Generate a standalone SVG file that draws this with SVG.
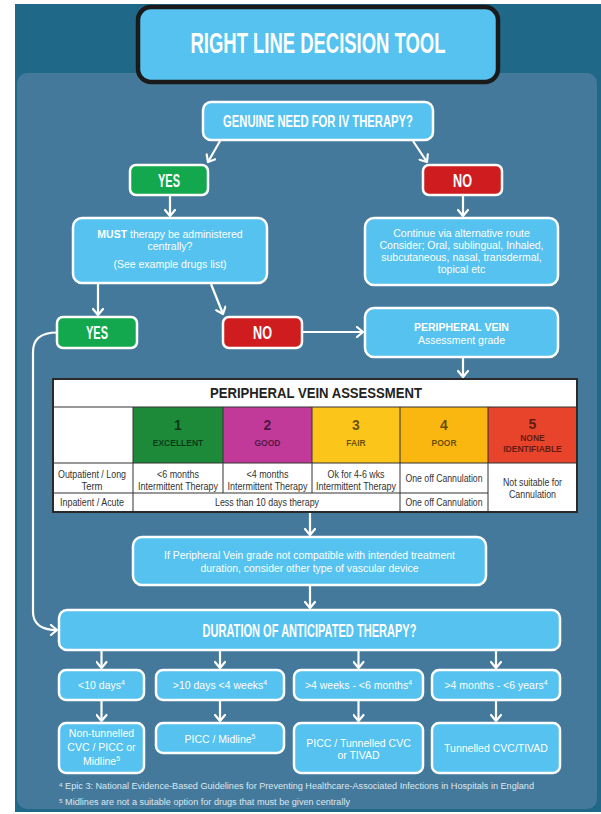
<svg xmlns="http://www.w3.org/2000/svg" width="601" height="814" viewBox="0 0 601 814">
<defs>
<marker id="ah" markerWidth="12" markerHeight="12" refX="10" refY="6" orient="auto" markerUnits="userSpaceOnUse">
<path d="M4,1 L10,6 L4,11" fill="none" stroke="#fff" stroke-width="2.2" stroke-linecap="round" stroke-linejoin="round"/>
</marker>
</defs>
<style>
.box{fill:#55c2ef;stroke:#fff;stroke-width:2.5}
.yes{fill:#13a84e;stroke:#fff;stroke-width:2.5}
.no{fill:#cf1c1f;stroke:#fff;stroke-width:2.5}
.hd{font-family:"Liberation Sans",Arial,sans-serif;font-weight:bold;fill:#fff;text-anchor:middle}
.t{font-family:"Liberation Sans",Arial,sans-serif;fill:#fff;text-anchor:middle;font-size:10.5px}
.tb{font-family:"Liberation Sans",Arial,sans-serif;fill:#333;text-anchor:middle;font-size:10.5px}
.num{font-family:"Liberation Sans",Arial,sans-serif;font-weight:bold;fill:#000;fill-opacity:.6;text-anchor:middle}
.cn line,.cn path{stroke:#fff;stroke-width:2.2;fill:none;marker-end:url(#ah)}
.grid{stroke:#333;stroke-width:1}
.fn{font-family:"Liberation Sans",Arial,sans-serif;fill:#dce8ef;font-size:8.5px}
</style>

<rect x="15" y="4" width="586" height="808" fill="#206888"/>
<rect x="17" y="73" width="580" height="736" rx="10" fill="#44799b"/>

<g id="title">
<rect x="138" y="7" width="360" height="75" rx="13" fill="#55c2ef" stroke="#1a1a1a" stroke-width="4.5"/>
<text class="hd" x="318" y="53" font-size="29" textLength="255" lengthAdjust="spacingAndGlyphs">RIGHT LINE DECISION TOOL</text>
</g>

<g id="genuine">
<rect class="box" x="203" y="102" width="230" height="38" rx="8"/>
<text class="hd" x="318" y="127" font-size="16.5" textLength="190" lengthAdjust="spacingAndGlyphs">GENUINE NEED FOR IV THERAPY?</text>
</g>

<g id="yes1">
<rect class="yes" x="130" y="165" width="78" height="30" rx="6"/>
<text class="hd" x="169" y="187" font-size="18" textLength="22" lengthAdjust="spacingAndGlyphs">YES</text>
</g>

<g id="no1">
<rect class="no" x="423" y="165" width="79" height="30" rx="6"/>
<text class="hd" x="462.5" y="187" font-size="18" textLength="19" lengthAdjust="spacingAndGlyphs">NO</text>
</g>

<g id="must">
<rect class="box" x="73" y="218" width="194" height="65" rx="9"/>
<text class="t" x="170" y="238"><tspan font-weight="bold">MUST</tspan> therapy be administered</text>
<text class="t" x="170" y="250">centrally?</text>
<text class="t" x="170" y="268">(See example drugs list)</text>
</g>

<g id="continue">
<rect class="box" x="365" y="218" width="193" height="67" rx="9"/>
<text class="t" x="461.5" y="237">Continue via alternative route</text>
<text class="t" x="461.5" y="249">Consider; Oral, sublingual, Inhaled,</text>
<text class="t" x="461.5" y="261">subcutaneous, nasal, transdermal,</text>
<text class="t" x="461.5" y="273">topical etc</text>
</g>

<g id="yes2">
<rect class="yes" x="57" y="317" width="80" height="31" rx="6"/>
<text class="hd" x="97" y="339" font-size="18" textLength="22" lengthAdjust="spacingAndGlyphs">YES</text>
</g>

<g id="no2">
<rect class="no" x="223" y="317" width="79" height="31" rx="6"/>
<text class="hd" x="262.5" y="339" font-size="18" textLength="19" lengthAdjust="spacingAndGlyphs">NO</text>
</g>

<g id="peripheral">
<rect class="box" x="365" y="308" width="193" height="49" rx="9"/>
<text class="t" x="461.5" y="331" font-weight="bold">PERIPHERAL VEIN</text>
<text class="t" x="461.5" y="344">Assessment grade</text>
</g>

<g id="table">
<rect x="53" y="379" width="524" height="133" fill="#fff"/>
<rect x="133" y="407" width="90" height="56" fill="#1d8a3a"/>
<rect x="223" y="407" width="89" height="56" fill="#c13a9a"/>
<rect x="312" y="407" width="88" height="56" fill="#fcc51a"/>
<rect x="400" y="407" width="88" height="56" fill="#f9b70f"/>
<rect x="488" y="407" width="89" height="56" fill="#e8432b"/>
<line class="grid" x1="53" y1="407" x2="577" y2="407"/>
<line class="grid" x1="53" y1="463" x2="577" y2="463"/>
<line class="grid" x1="53" y1="493" x2="488" y2="493"/>
<line class="grid" x1="133" y1="407" x2="133" y2="512"/>
<line class="grid" x1="223" y1="407" x2="223" y2="493"/>
<line class="grid" x1="312" y1="407" x2="312" y2="493"/>
<line class="grid" x1="400" y1="407" x2="400" y2="512"/>
<line class="grid" x1="488" y1="407" x2="488" y2="512"/>
<rect x="53" y="379" width="524" height="133" fill="none" stroke="#2a2a2a" stroke-width="2"/>
<text x="316" y="398" font-family="Liberation Sans, Arial, sans-serif" font-weight="bold" font-size="14" fill="#222" text-anchor="middle" textLength="212" lengthAdjust="spacingAndGlyphs">PERIPHERAL VEIN ASSESSMENT</text>
<text class="num" x="178" y="430" font-size="14">1</text>
<text class="num" x="178" y="446" font-size="8.5">EXCELLENT</text>
<text class="num" x="267.5" y="430" font-size="14">2</text>
<text class="num" x="267.5" y="446" font-size="8.5">GOOD</text>
<text class="num" x="356" y="430" font-size="14">3</text>
<text class="num" x="356" y="446" font-size="8.5">FAIR</text>
<text class="num" x="444" y="430" font-size="14">4</text>
<text class="num" x="444" y="446" font-size="8.5">POOR</text>
<text class="num" x="532.5" y="429" font-size="14">5</text>
<text class="num" x="532.5" y="440.5" font-size="8.5">NONE</text>
<text class="num" x="532.5" y="451.5" font-size="8.5">IDENTIFIABLE</text>
<text class="tb" x="92" y="477.5" textLength="68" lengthAdjust="spacingAndGlyphs">Outpatient / Long</text>
<text class="tb" x="92" y="489.5" textLength="21" lengthAdjust="spacingAndGlyphs">Term</text>
<text class="tb" x="178" y="477.5" textLength="42" lengthAdjust="spacingAndGlyphs">&lt;6 months</text>
<text class="tb" x="178" y="489.5" textLength="80" lengthAdjust="spacingAndGlyphs">Intermittent Therapy</text>
<text class="tb" x="267.5" y="477.5" textLength="42" lengthAdjust="spacingAndGlyphs">&lt;4 months</text>
<text class="tb" x="267.5" y="489.5" textLength="80" lengthAdjust="spacingAndGlyphs">Intermittent Therapy</text>
<text class="tb" x="356" y="477.5" textLength="57" lengthAdjust="spacingAndGlyphs">Ok for 4-6 wks</text>
<text class="tb" x="356" y="489.5" textLength="80" lengthAdjust="spacingAndGlyphs">Intermittent Therapy</text>
<text class="tb" x="444" y="481.5" textLength="77" lengthAdjust="spacingAndGlyphs">One off Cannulation</text>
<text class="tb" x="532.5" y="485.5" textLength="59" lengthAdjust="spacingAndGlyphs">Not suitable for</text>
<text class="tb" x="532.5" y="497.5" textLength="47" lengthAdjust="spacingAndGlyphs">Cannulation</text>
<text class="tb" x="92" y="506" textLength="64" lengthAdjust="spacingAndGlyphs">Inpatient / Acute</text>
<text class="tb" x="267" y="506" textLength="104" lengthAdjust="spacingAndGlyphs">Less than 10 days therapy</text>
<text class="tb" x="444" y="506" textLength="77" lengthAdjust="spacingAndGlyphs">One off Cannulation</text>
</g>

<g id="info">
<rect class="box" x="133" y="537" width="353" height="48" rx="9"/>
<text class="t" x="309.5" y="558.5" font-size="10" textLength="291" lengthAdjust="spacingAndGlyphs">If Peripheral Vein grade not compatible with intended treatment</text>
<text class="t" x="309.5" y="572" font-size="10" textLength="218" lengthAdjust="spacingAndGlyphs">duration, consider other type of vascular device</text>
</g>

<g id="duration">
<rect class="box" x="59" y="610" width="501" height="40" rx="8"/>
<text class="hd" x="309.5" y="637" font-size="18" textLength="214" lengthAdjust="spacingAndGlyphs">DURATION OF ANTICIPATED THERAPY?</text>
</g>

<g id="d1">
<rect class="box" x="59" y="670" width="85" height="30" rx="7"/>
<text class="t" x="101.5" y="689" font-size="11">&lt;10 days<tspan font-size="7" dy="-4">4</tspan></text>
</g>
<g id="d2">
<rect class="box" x="156" y="670" width="128" height="30" rx="7"/>
<text class="t" x="220" y="689" font-size="11">&gt;10 days &lt;4 weeks<tspan font-size="7" dy="-4">4</tspan></text>
</g>
<g id="d3">
<rect class="box" x="294" y="670" width="129" height="30" rx="7"/>
<text class="t" x="358.5" y="689" font-size="11">&gt;4 weeks - &lt;6 months<tspan font-size="7" dy="-4">4</tspan></text>
</g>
<g id="d4">
<rect class="box" x="432" y="670" width="128" height="30" rx="7"/>
<text class="t" x="496" y="689" font-size="11">&gt;4 months - &lt;6 years<tspan font-size="7" dy="-4">4</tspan></text>
</g>

<g id="r1">
<rect class="box" x="59" y="723" width="85" height="50" rx="7"/>
<text class="t" x="101.5" y="737">Non-tunnelled</text>
<text class="t" x="101.5" y="751">CVC / PICC or</text>
<text class="t" x="101.5" y="765">Midline<tspan font-size="7" dy="-4">5</tspan></text>
</g>
<g id="r2">
<rect class="box" x="156" y="723" width="128" height="30" rx="7"/>
<text class="t" x="220" y="742.5">PICC / Midline<tspan font-size="7" dy="-4">5</tspan></text>
</g>
<g id="r3">
<rect class="box" x="294" y="723" width="129" height="50" rx="7"/>
<text class="t" x="358.5" y="746.5">PICC / Tunnelled CVC</text>
<text class="t" x="358.5" y="758.5">or TIVAD</text>
</g>
<g id="r4">
<rect class="box" x="432" y="723" width="128" height="50" rx="7"/>
<text class="t" x="496" y="752">Tunnelled CVC/TIVAD</text>
</g>

<g id="footnotes">
<text class="fn" x="59" y="789" textLength="475" lengthAdjust="spacingAndGlyphs"><tspan font-size="6" dy="-2">4</tspan><tspan dy="2"> Epic 3: National Evidence-Based Guidelines for Preventing Healthcare-Associated Infections in Hospitals in England</tspan></text>
<text class="fn" x="59" y="805" textLength="291" lengthAdjust="spacingAndGlyphs"><tspan font-size="6" dy="-2">5</tspan><tspan dy="2"> Midlines are not a suitable option for drugs that must be given centrally</tspan></text>
</g>

<g id="connectors" class="cn">
<line x1="220" y1="141" x2="208" y2="162"/>
<line x1="413" y1="141" x2="427" y2="162"/>
<line x1="170" y1="196" x2="170" y2="216"/>
<line x1="463" y1="196" x2="463" y2="216"/>
<line x1="98" y1="284" x2="98" y2="315"/>
<line x1="211" y1="284" x2="223" y2="314"/>
<line x1="303" y1="332" x2="363" y2="332"/>
<line x1="463" y1="358" x2="463" y2="377"/>
<line x1="310" y1="513" x2="310" y2="535"/>
<line x1="310" y1="586" x2="310" y2="608"/>
<path d="M57,332.5 C42,332.5 33,338 33,352 L33,612 C33,624 42,630 57,630"/>
<line x1="101.5" y1="651" x2="101.5" y2="668"/>
<line x1="220" y1="651" x2="220" y2="668"/>
<line x1="358.5" y1="651" x2="358.5" y2="668"/>
<line x1="496" y1="651" x2="496" y2="668"/>
<line x1="101.5" y1="701" x2="101.5" y2="721"/>
<line x1="220" y1="701" x2="220" y2="721"/>
<line x1="358.5" y1="701" x2="358.5" y2="721"/>
<line x1="496" y1="701" x2="496" y2="721"/>
</g>
</svg>
